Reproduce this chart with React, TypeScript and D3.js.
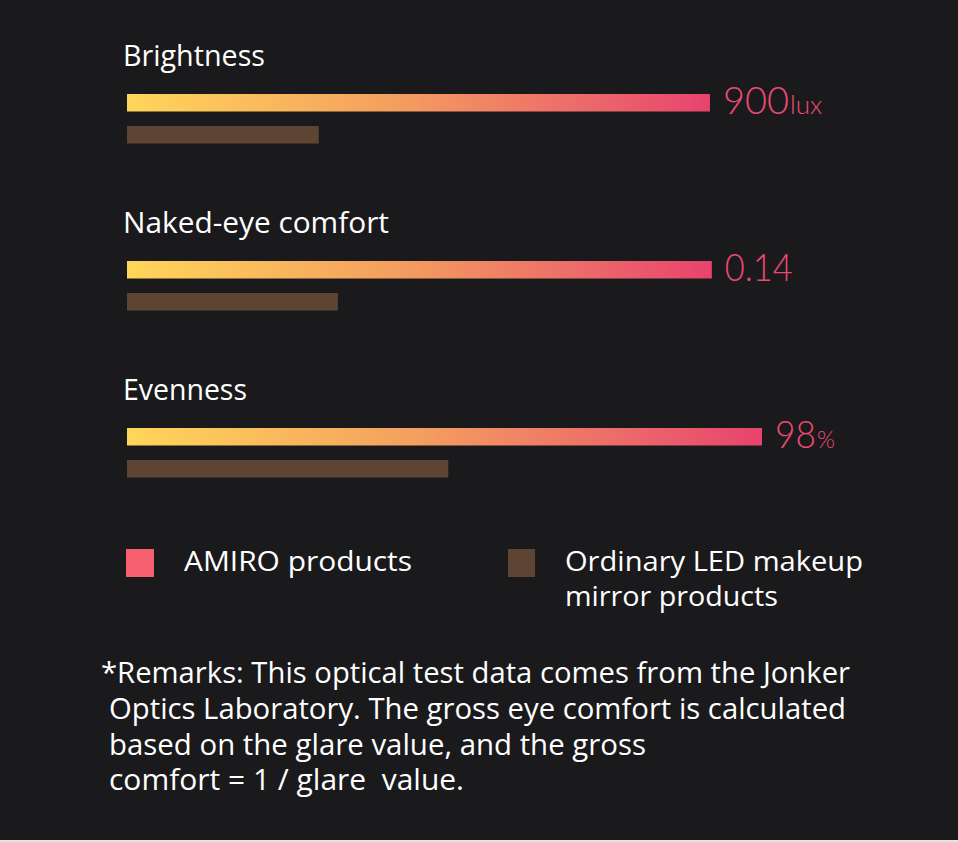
import { scaleLinear, scalePoint } from 'd3'

const WIDTH = 958
const HEIGHT = 842

// relative scores, the longest bar = 100
const categories = ['Brightness', 'Naked-eye comfort', 'Evenness']
const amiroScores = [91.8, 92.1, 100]
const ordinaryScores = [30.2, 33.2, 50.6]
const valueNumbers = ['900', '0.14', '98']
const valueUnits = ['lux', '', '%']
const titleWidths = [142, 266, 124]
const numberWidths = [66, 68, 41]

const seriesNames = ['AMIRO products', 'Ordinary LED makeup mirror products']
const seriesColors = ['#f55f6f', '#5e4432']

const remarkLines = [
  '*Remarks: This optical test data comes from the Jonker',
  'Optics Laboratory. The gross eye comfort is calculated',
  'based on the glare value, and the gross',
  'comfort = 1 / glare  value.',
]

const BG = '#1a1a1c'
const LABEL = '#ea4a72'
const FONT = "'Open Sans', 'Noto Sans', sans-serif"

export default function App() {
  const xScale = scaleLinear().domain([0, 100]).range([127, 762])
  const yScale = scalePoint<string>().domain(categories).range([94, 428])
  const barH = 17.5
  const gap = 14.5

  return (
    <svg
      width={WIDTH}
      height={HEIGHT}
      viewBox={`0 0 ${WIDTH} ${HEIGHT}`}
      style={{ position: 'absolute', left: 0, top: 0 }}
      fontFamily={FONT}
    >
      <defs>
        {categories.map((c, i) => (
          <linearGradient
            key={c}
            id={`grad-${i}`}
            gradientUnits="userSpaceOnUse"
            x1={xScale(0)}
            x2={xScale(amiroScores[i])}
            y1={0}
            y2={0}
          >
            <stop offset="0%" stopColor="#ffd65a" />
            <stop offset="45%" stopColor="#f4a05f" />
            <stop offset="78%" stopColor="#ec6a6a" />
            <stop offset="100%" stopColor="#e8436e" />
          </linearGradient>
        ))}
      </defs>
      <rect width={WIDTH} height={HEIGHT} fill={BG} />
      <rect y={HEIGHT - 2} width={WIDTH} height={2} fill="#e4e4e4" />

      {categories.map((c, i) => {
        const y = yScale(c) ?? 0
        const end = xScale(amiroScores[i])
        return (
          <g key={c}>
            <text
              x={123}
              y={y - 28}
              fill="#ffffff"
              fontSize={29}
              textLength={titleWidths[i]}
              lengthAdjust="spacingAndGlyphs"
            >
              {c}
            </text>
            <rect x={xScale(0)} y={y} width={end - xScale(0)} height={barH} fill={`url(#grad-${i})`} />
            <rect
              x={xScale(0)}
              y={y + barH + gap}
              width={xScale(ordinaryScores[i]) - xScale(0)}
              height={barH}
              fill={seriesColors[1]}
            />
            <text x={end + 13} y={y + 19.5} fill={LABEL} fontFamily="Lato, 'DejaVu Sans', sans-serif" fontWeight={300}>
              <tspan fontSize={37} textLength={numberWidths[i]} lengthAdjust="spacingAndGlyphs">
                {valueNumbers[i]}
              </tspan>
              {valueUnits[i] && (
                <tspan fontSize={valueUnits[i] === 'lux' ? 26 : 23} dx={1}>
                  {valueUnits[i]}
                </tspan>
              )}
            </text>
          </g>
        )
      })}

      {/* legend */}
      <rect x={126} y={549} width={28} height={28} fill={seriesColors[0]} />
      <text x={184} y={571} fill="#ffffff" fontSize={28} textLength={228} lengthAdjust="spacingAndGlyphs">
        {seriesNames[0]}
      </text>
      <rect x={508} y={549} width={27} height={28} fill={seriesColors[1]} />
      <text fill="#ffffff" fontSize={28}>
        <tspan x={565} y={571} textLength={298} lengthAdjust="spacingAndGlyphs">
          Ordinary LED makeup
        </tspan>
        <tspan x={565} y={606} textLength={213} lengthAdjust="spacingAndGlyphs">
          mirror products
        </tspan>
      </text>

      {/* remarks */}
      <text fill="#ffffff" fontSize={29}>
        {remarkLines.map((line, i) => (
          <tspan
            key={i}
            x={i === 0 ? 101 : 109}
            y={683 + i * 35.8}
            textLength={[749, 737, 537, 355][i]}
            lengthAdjust="spacingAndGlyphs"
            style={{ whiteSpace: 'pre' }}
          >
            {line}
          </tspan>
        ))}
      </text>
    </svg>
  )
}
